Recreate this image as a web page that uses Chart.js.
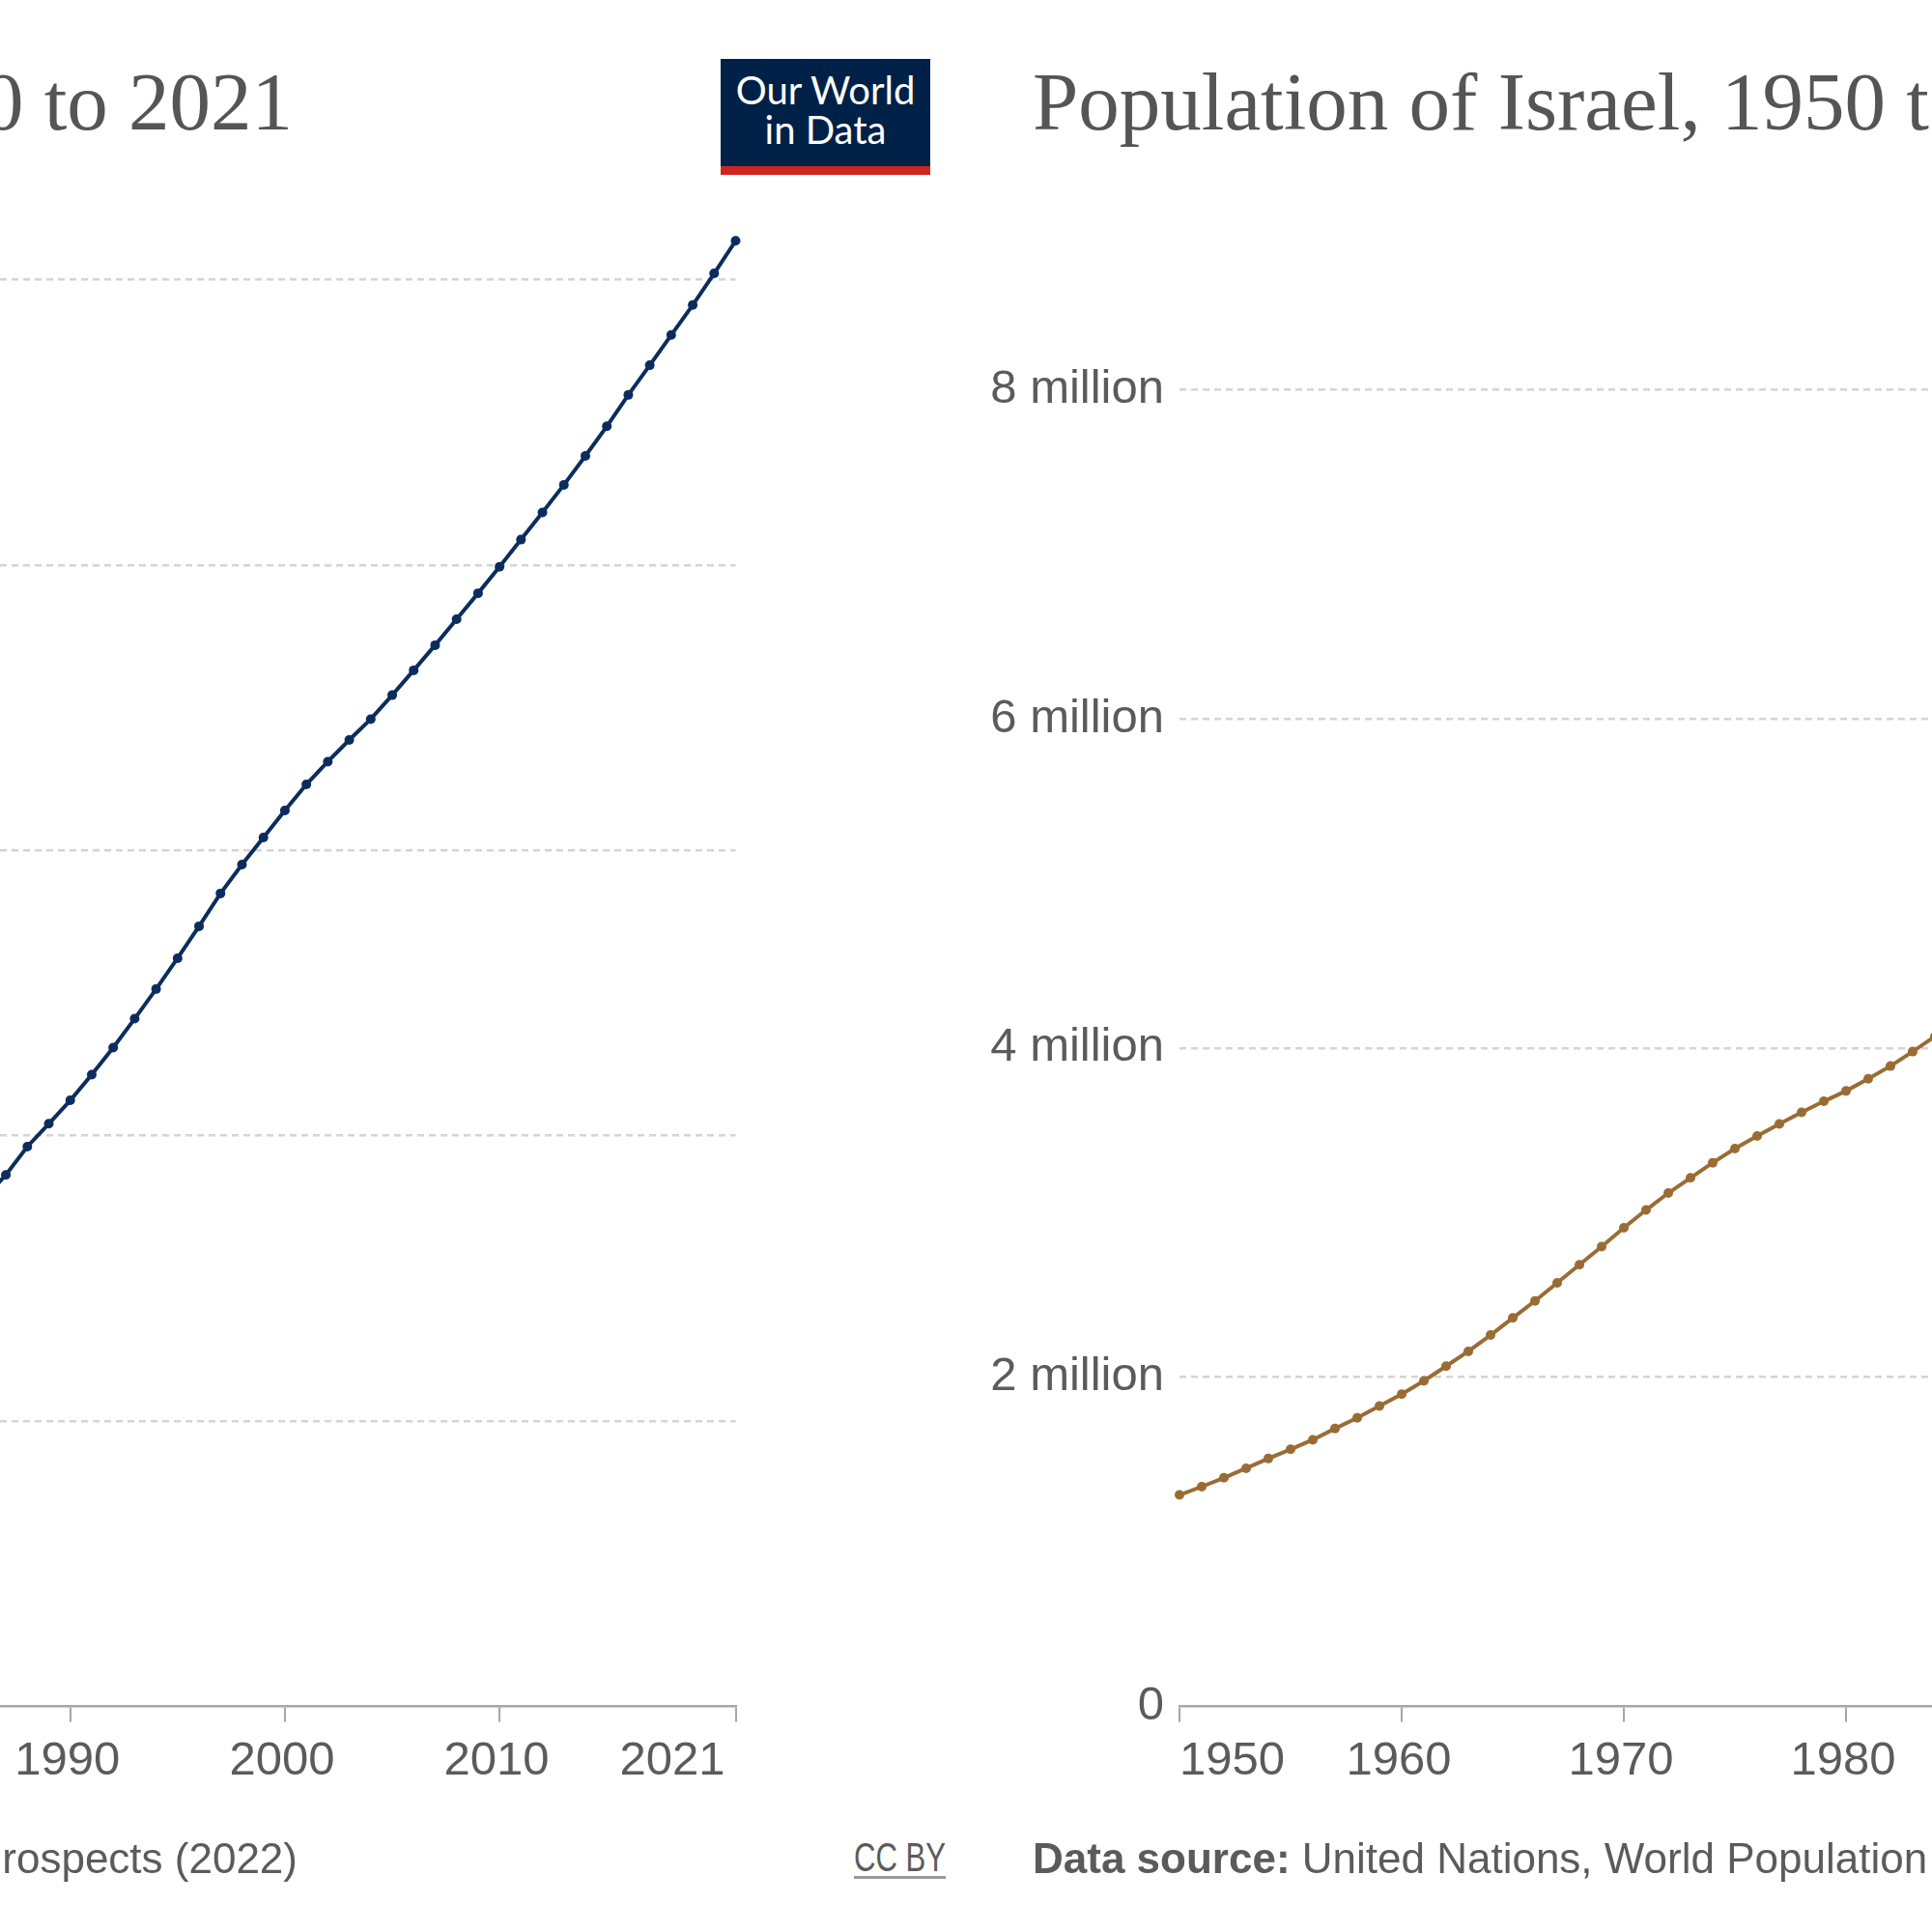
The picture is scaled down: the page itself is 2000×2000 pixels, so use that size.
<!DOCTYPE html>
<html>
<head>
<meta charset="utf-8">
<script src="https://cdn.jsdelivr.net/npm/chart.js@4.4.1/dist/chart.umd.min.js"></script>
<style>
  html, body { margin: 0; padding: 0; width: 2000px; height: 2000px; overflow: hidden; background: #fff; }
  body { position: relative; }
  canvas { position: absolute; top: 0; }
  .abs { position: absolute; white-space: nowrap; }
  .title { font-family: "Liberation Serif", serif; font-size: 85px; line-height: 85px; color: #555; top: 63px; }
  .source { font-family: "Liberation Sans", Arial, sans-serif; font-size: 44px; line-height: 44px; color: #5b5b5b; top: 1902px; }
  .source b { font-weight: bold; }
  #logo { left: 746px; top: 61px; width: 217px; height: 111px; background: #002147; border-bottom: 9px solid #ce261e; }
  #logo div { position: absolute; left: 0; width: 217px; text-align: center; color: #fff;
              font-family: Lato, "Open Sans", sans-serif; font-size: 40px; line-height: 40px; }
  #cc { left: 884px; top: 1902px; font-family: "Liberation Sans", Arial, sans-serif; font-size: 42px; line-height: 42px;
        color: #5b5b5b; text-decoration: underline; text-decoration-thickness: 3px; text-underline-offset: 5px;
        text-decoration-color: #999; transform: scaleX(0.74); transform-origin: left top; }
</style>
</head>
<body>
<canvas id="palestine" width="1900" height="2000" style="left:-1100px"></canvas>
<canvas id="israel" width="2000" height="2000" style="left:1000px"></canvas>

<div class="abs title" style="right:1697px">Population of Palestine, 1950 to 2021</div>
<div class="abs title" style="left:1069px">Population of Israel, 1950 to 2021</div>

<div id="logo" class="abs">
  <div style="top:12px">Our World</div>
  <div style="top:53px">in Data</div>
</div>

<div class="abs source" style="right:1692px"><b>Data source:</b> United Nations, World Population Prospects (2022)</div>
<div id="cc" class="abs">CC BY</div>
<div class="abs source" style="left:1069px"><b>Data source:</b> United Nations, World Population Prospects (2022)</div>

<script>
// x axis ticks shared by both charts
const xTicks = [1950, 1960, 1970, 1980, 1990, 2000, 2010, 2021];

// Palestine, millions (only the part visible in the crop)
const palestineYears = [1986, 1987, 1988, 1989, 1990, 1991, 1992, 1993, 1994, 1995, 1996, 1997,
  1998, 1999, 2000, 2001, 2002, 2003, 2004, 2005, 2006, 2007, 2008, 2009, 2010, 2011, 2012,
  2013, 2014, 2015, 2016, 2017, 2018, 2019, 2020, 2021];
const palestinePop = [1.78, 1.863, 1.962, 2.042, 2.124, 2.214, 2.309, 2.410, 2.514, 2.622, 2.734, 2.849,
  2.950, 3.045, 3.140, 3.231, 3.311, 3.387, 3.460, 3.544, 3.631, 3.719, 3.810, 3.901, 3.994, 4.089, 4.184,
  4.281, 4.382, 4.486, 4.596, 4.700, 4.806, 4.911, 5.022, 5.136];
const palestineYTicks = [0, 1, 2, 3, 4, 5];

// Israel, millions (only the part visible in the crop)
const israelYears = [1950, 1951, 1952, 1953, 1954, 1955, 1956, 1957, 1958, 1959, 1960, 1961,
  1962, 1963, 1964, 1965, 1966, 1967, 1968, 1969, 1970, 1971, 1972, 1973, 1974, 1975, 1976,
  1977, 1978, 1979, 1980, 1981, 1982, 1983, 1984];
const israelPop = [1.285, 1.335, 1.389, 1.447, 1.506, 1.562, 1.620, 1.688, 1.753, 1.825, 1.897, 1.978,
  2.067, 2.157, 2.256, 2.360, 2.463, 2.573, 2.683, 2.793, 2.908, 3.016, 3.119, 3.211, 3.303, 3.389, 3.465,
  3.539, 3.609, 3.676, 3.739, 3.813, 3.890, 3.978, 4.07];
const israelYTicks = [0, 2, 4, 6, 8];

const sans = '"Liberation Sans", Arial, sans-serif';

// year labels under the axis: first one starts at its tick, last one ends before it
const xLabelPlugin = {
  id: 'xLabels',
  afterDraw(chart) {
    const { ctx, chartArea, scales } = chart;
    ctx.save();
    ctx.font = '49px ' + sans;
    ctx.fillStyle = '#5b5b5b';
    ctx.textBaseline = 'alphabetic';
    xTicks.forEach((year, i) => {
      let x = scales.x.getPixelForValue(year);
      if (i === 0) {
        ctx.textAlign = 'left';
      } else if (i === xTicks.length - 1) {
        ctx.textAlign = 'right';
        x -= 11;
      } else {
        ctx.textAlign = 'center';
        x -= 3;
      }
      ctx.fillText(String(year), x, chartArea.bottom + 70);
    });
    ctx.restore();
  }
};

function makeChart(id, years, values, yTicks, yMax, color, yWidth, padRight) {
  return new Chart(document.getElementById(id), {
    type: 'line',
    data: {
      datasets: [{
        data: years.map((y, i) => ({ x: y, y: values[i] })),
        borderColor: color,
        backgroundColor: color,
        borderWidth: 4,
        pointRadius: 5,
        pointBorderWidth: 0,
        pointBackgroundColor: color,
        tension: 0,
        clip: false
      }]
    },
    options: {
      responsive: false,
      animation: false,
      layout: { padding: { top: 248, right: padRight, bottom: 0, left: 0 } },
      plugins: { legend: { display: false }, tooltip: { enabled: false } },
      scales: {
        x: {
          type: 'linear',
          min: 1950,
          max: 2021,
          afterBuildTicks: s => { s.ticks = xTicks.map(v => ({ value: v })); },
          afterFit: s => { s.height = 233.5; },
          ticks: { display: false },
          grid: { display: true, drawOnChartArea: false, drawTicks: true, tickLength: 16, color: '#a6a6a6', lineWidth: 2 },
          border: { display: true, color: '#a6a6a6', width: 2.5 }
        },
        y: {
          min: 0,
          max: yMax,
          afterBuildTicks: s => { s.ticks = yTicks.map(v => ({ value: v })); },
          afterFit: s => { s.width = yWidth; },
          ticks: {
            padding: 16,
            color: '#5b5b5b',
            font: { family: sans, size: 49 },
            callback: v => v === 0 ? '0' : v + ' million'
          },
          grid: {
            drawTicks: false,
            lineWidth: 2.5,
            color: c => (c.tick && c.tick.value === 0) ? 'rgba(0,0,0,0)' : '#d4d4d4'
          },
          border: { display: false, dash: [7, 5] }
        }
      }
    },
    plugins: [xLabelPlugin]
  });
}

makeChart('palestine', palestineYears, palestinePop, palestineYTicks, 5.1405, '#0b2d5e', 284, 38.5);
makeChart('israel', israelYears, israelPop, israelYTicks, 8.911, '#9a6c35', 221, 146);
</script>
</body>
</html>
